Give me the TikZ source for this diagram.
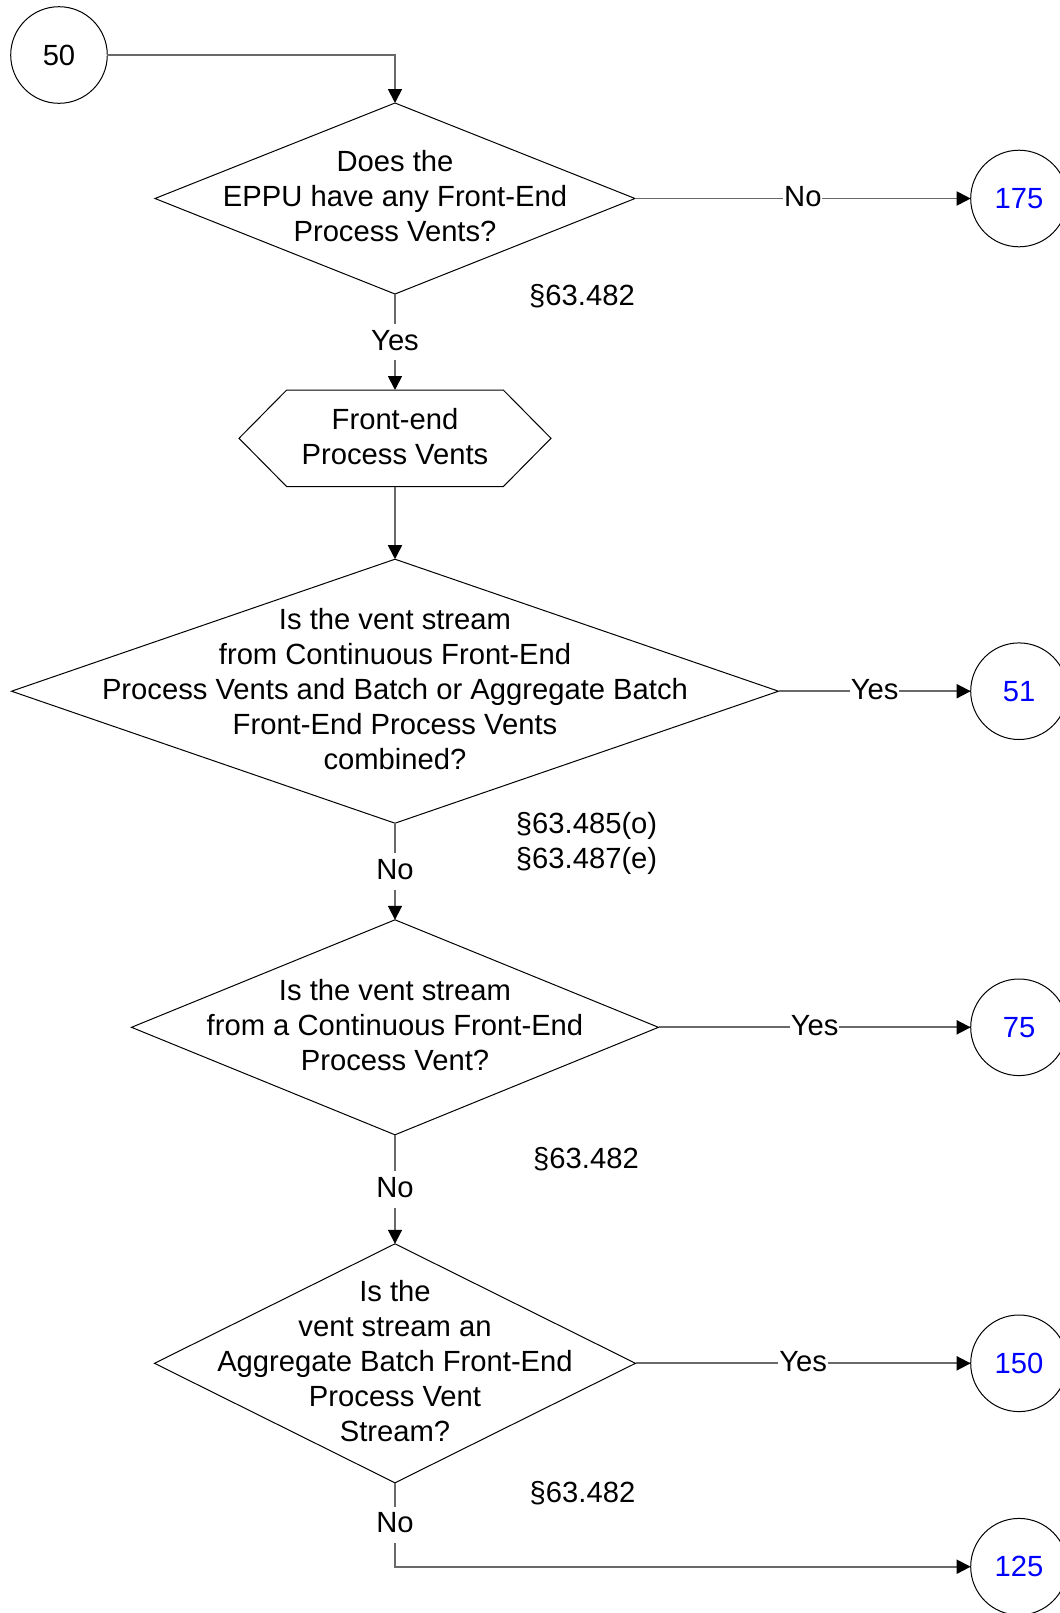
\documentclass[tikz,border=0pt]{standalone}
\usepackage{fontspec}
\setmainfont{Liberation Sans}
\usetikzlibrary{positioning,arrows.meta}
\definecolor{LineGray}{RGB}{105,105,105}
\definecolor{LinkBlue}{RGB}{0,0,255}
\newcommand{\linetop}{\rule{0pt}{15.25pt}}
\newcommand{\linebot}{\rule[-2.25pt]{0pt}{2.25pt}}

\begin{document}
\begin{tikzpicture}[x=0.5pt, y=-0.5pt,
    every node/.style={font=\fontsize{14.6}{17.5}\selectfont},
    decision/.style={rectangle, inner sep=0pt, outer sep=0pt, align=center,
                 execute at begin node=\linetop, execute at end node=\linebot},
    prepbox/.style={decision, minimum width=156pt, minimum height=48.3pt},
    offpage/.style={circle, draw=black, line width=0.5pt, minimum size=48.3pt,
                 inner sep=0pt, outer sep=0pt, text=LinkBlue},
    citenote/.style={inner sep=0pt, align=center,
                 execute at begin node=\linetop, execute at end node=\linebot},
    edgelabel/.style={fill=white, inner xsep=0.4pt, inner ysep=2.6pt,
                 text height=10.6pt, text depth=2.4pt},
    outline/.style={draw=black, line width=0.5pt},
    arrow/.style={draw=LineGray, line width=0.9pt,
                 -{Triangle[length=7pt, width=7pt, color=black]}}
]
    \useasboundingbox (0,0) rectangle (1060,1613);
    \coordinate (rcol) at (1019,0);

    \node[offpage, text=black] (c50) at (59,55) {50};
    \node[decision, minimum width=240pt, minimum height=95.5pt] (q1) at (395,198.5)
        {Does the\\EPPU have any Front-End\\Process Vents?};
    \node[prepbox, below=48pt of q1] (fe) {Front-end\\Process Vents};
    \node[decision, minimum width=383.5pt, minimum height=132pt, below=36.3pt of fe] (q2)
        {Is the vent stream\\from Continuous Front-End\\Process Vents and Batch or Aggregate Batch\\Front-End Process Vents\\combined?};
    \node[decision, minimum width=263.5pt, minimum height=107.5pt, below=48.3pt of q2] (q3)
        {Is the vent stream\\from a Continuous Front-End\\Process Vent?};
    \node[decision, minimum width=240.5pt, minimum height=119.5pt, below=54.5pt of q3] (q4)
        {Is the\\vent stream an\\Aggregate Batch Front-End\\Process Vent\\Stream?};

    \node[offpage] (c175) at (q1 -| rcol) {175};
    \node[offpage] (c51) at (q2 -| rcol) {51};
    \node[offpage] (c75) at (q3 -| rcol) {75};
    \node[offpage] (c150) at (q4 -| rcol) {150};
    \node[offpage] (c125) at (1019,1566.7) {125};

    \node[citenote] (r1) at (582,292) {§63.482};
    \node[citenote] (r2) at (586.6,843) {§63.485(o)\\§63.487(e)};
    \node[citenote] (r3) at (586,1155.5) {§63.482};
    \node[citenote] (r4) at (582.5,1489) {§63.482};

    \foreach \q in {q1,q2,q3,q4}
        \draw[outline] (\q.north) -- (\q.east) -- (\q.south) -- (\q.west) -- cycle;
    \draw[outline] (fe.west) -- ([xshift=23.85pt]fe.north west) -- ([xshift=-23.85pt]fe.north east)
        -- (fe.east) -- ([xshift=-23.85pt]fe.south east) -- ([xshift=23.85pt]fe.south west) -- cycle;

    \draw[arrow] (c50) -| (q1);
    \draw[arrow] (q1) -- node[edgelabel] {No} (c175);
    \draw[arrow] (q1) -- node[edgelabel] {Yes} (fe);
    \draw[arrow] (fe) -- (q2);
    \draw[arrow] (q2) -- node[edgelabel] {Yes} (c51);
    \draw[arrow] (q2) -- node[edgelabel] {No} (q3);
    \draw[arrow] (q3) -- node[edgelabel] {Yes} (c75);
    \draw[arrow] (q3) -- node[edgelabel] {No} (q4);
    \draw[arrow] (q4) -- node[edgelabel] {Yes} (c150);
    \draw[arrow] (q4) |- node[edgelabel, pos=0.25] {No} (c125);
\end{tikzpicture}
\end{document}
